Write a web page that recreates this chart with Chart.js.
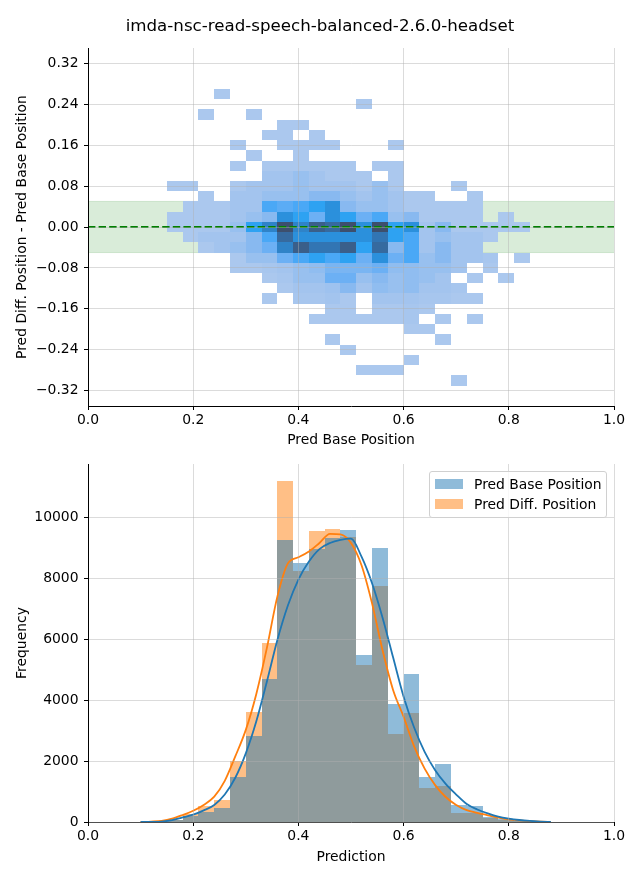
<!DOCTYPE html>
<html><head><meta charset="utf-8">
<script src="https://cdn.jsdelivr.net/npm/chart.js@4.4.1/dist/chart.umd.min.js"></script>
<style>
html,body{margin:0;padding:0;background:#fff;}
#wrap{position:relative;width:640px;height:880px;font-family:"DejaVu Sans",sans-serif;color:#000;}
#title{position:absolute;left:0;top:16px;width:640px;text-align:center;font-size:16.67px;line-height:20px;}
#c1{position:absolute;left:0;top:0;}
#c2{position:absolute;left:0;top:450px;}
#legend{position:absolute;left:429px;top:471px;width:178px;height:47px;border:1px solid #d0d0d0;border-radius:3px;background:rgba(255,255,255,0.8);box-sizing:border-box;font-size:13.9px;}
.item{position:absolute;left:5px;height:16px;line-height:16px;white-space:nowrap;}
.sw{display:inline-block;width:28px;height:10px;vertical-align:middle;margin-right:11px;position:relative;top:-1px;}
</style></head>
<body>
<div id="wrap">
  <canvas id="c1" width="640" height="450"></canvas>
  <canvas id="c2" width="640" height="430"></canvas>
  <div id="title">imda-nsc-read-speech-balanced-2.6.0-headset</div>
  <div id="legend">
    <div class="item" style="top:4px"><span class="sw" style="background:rgba(31,119,180,0.5)"></span>Pred Base Position</div>
    <div class="item" style="top:24px"><span class="sw" style="background:rgba(255,127,14,0.5)"></span>Pred Diff. Position</div>
  </div>
</div>
<script>
// ---------- DATA ----------
const heatXCenters = [0.165,0.195,0.225,0.255,0.285,0.315,0.345,0.375,0.405,0.435,0.465,0.495,0.525,0.555,0.585,0.615,0.645,0.675,0.705,0.735,0.765,0.795,0.825];
const heatYCenters = [0.26,0.24,0.22,0.20,0.18,0.16,0.14,0.12,0.10,0.08,0.06,0.04,0.02,0.00,-0.02,-0.04,-0.06,-0.08,-0.10,-0.12,-0.14,-0.16,-0.18,-0.20,-0.22,-0.24,-0.26,-0.28,-0.30];
const heatBinHeight = 0.02;
// relative density level per cell (rows follow heatYCenters, columns follow heatXCenters)
const heatCounts = [
 [0,0,0,1,0,0,0,0,0,0,0,0,0,0,0,0,0,0,0,0,0,0,0],
 [0,0,0,0,0,0,0,0,0,0,0,0,1,0,0,0,0,0,0,0,0,0,0],
 [0,0,1,0,0,1,0,0,0,0,0,0,0,0,0,0,0,0,0,0,0,0,0],
 [0,0,0,0,0,0,0,1,1,0,0,0,0,0,0,0,0,0,0,0,0,0,0],
 [0,0,0,0,0,0,1,1,0,1,0,0,0,0,0,0,0,0,0,0,0,0,0],
 [0,0,0,0,1,0,0,1,1,1,1,0,0,0,1,0,0,0,0,0,0,0,0],
 [0,0,0,0,0,1,0,0,1,0,0,0,0,0,0,0,0,0,0,0,0,0,0],
 [0,0,0,0,1,0,1,1,1,1,1,1,0,1,1,0,0,0,0,0,0,0,0],
 [0,0,0,0,0,0,2,2,3,2,1,1,1,0,1,0,0,0,0,0,0,0,0],
 [1,1,0,0,1,2,2,2,3,2,2,2,1,3,1,0,0,0,1,0,0,0,0],
 [0,0,1,0,2,2,3,3,3,4,4,3,2,3,2,1,1,0,0,1,0,0,0],
 [0,1,1,1,2,2,6,5.5,6,7,8,4,3,3,2,1,1,1,1,1,0,0,0],
 [1,1,1,1,2,3,4,8,7,5,8,7,5,6,3,4,1,1,1,1,0,1,0],
 [1,1,1,1,3,7,8.5,11,8.5,10,9.5,11,8,11,7,8,2,4,1,1,1,1,1],
 [0,1,2,2,2,4,6,9.5,8,8,8,8,8,9,7,6,2,3,2,2,1,0,0],
 [0,0,1,2,3,4,5,8.5,10,9,9,10,7,9.5,4,6,2,4,2,2,0,0,0],
 [0,0,0,0,1,3,3,5,6,7,6,7,5,8,5,6,3,4,2,2,1.5,0,1],
 [0,0,0,0,1,1,1.5,2,3,3.5,4.5,4.5,4.5,5,3.5,3.5,3,3,2,0,1,0,0],
 [0,0,0,0,0,0,1,1.5,3,3,5,5,3,4,3,3.5,3,2,0,1,0,1,0],
 [0,0,0,0,0,0,0,1,2,2,2.5,4,2,3.5,3,3.5,2,2,1.5,0,0,0,0],
 [0,0,0,0,0,0,1,0,1.5,1.5,2,1,0,2,2,2,1.5,1.5,1,1,0,0,0],
 [0,0,0,0,0,0,0,0,0,0,1,1,0,1,1,1.5,1,0,0,0,0,0,0],
 [0,0,0,0,0,0,0,0,0,1,1,1,1,1,1,1.5,0,1,0,1,0,0,0],
 [0,0,0,0,0,0,0,0,0,0,0,0,0,0,0,1,1,0,0,0,0,0,0],
 [0,0,0,0,0,0,0,0,0,0,1,0,0,0,0,0,0,1,0,0,0,0,0],
 [0,0,0,0,0,0,0,0,0,0,0,1,0,0,0,0,0,0,0,0,0,0,0],
 [0,0,0,0,0,0,0,0,0,0,0,0,0,0,0,1,0,0,0,0,0,0,0],
 [0,0,0,0,0,0,0,0,0,0,0,0,1,1,1,0,0,0,0,0,0,0,0],
 [0,0,0,0,0,0,0,0,0,0,0,0,0,0,0,0,0,0,1,0,0,0,0]
];
const bandLimits = [-0.05, 0.05];
const refLineY = 0;

const histCenters = [0.105,0.135,0.165,0.195,0.225,0.255,0.285,0.315,0.345,0.375,0.405,0.435,0.465,0.495,0.525,0.555,0.585,0.615,0.645,0.675,0.705,0.735,0.765,0.795,0.825,0.855];
const baseCounts = [5,20,60,190,340,460,1490,2830,4700,9250,8490,8940,9320,9570,5475,8980,3860,4850,1490,1900,570,540,150,110,40,15];
const diffCounts = [5,25,70,270,535,720,2000,3610,5870,11180,8230,9540,9600,9330,5150,7740,2900,3585,1130,1180,300,290,120,80,30,10];

const kdeX = [0.10,0.12,0.14,0.16,0.18,0.20,0.22,0.24,0.26,0.28,0.30,0.32,0.34,0.36,0.38,0.40,0.42,0.44,0.46,0.48,0.50,0.52,0.54,0.56,0.58,0.60,0.62,0.64,0.66,0.68,0.70,0.72,0.74,0.76,0.78,0.80,0.82,0.84,0.86,0.88];
const baseKde = [0,5,15,60,150,240,380,560,900,1450,2250,3300,4600,5970,7100,7950,8540,8950,9150,9250,9290,8700,7830,6700,5400,4110,3100,2300,1700,1250,900,590,410,280,175,110,65,35,15,0];
const diffKde = [0,15,40,110,230,370,560,830,1350,2150,3020,4200,5700,7390,8480,8680,8870,9150,9450,9430,9150,8420,7170,5630,4330,3450,2480,1750,1210,820,560,390,300,220,140,85,50,25,10,0];

const xTicks = [0, 0.2, 0.4, 0.6, 0.8, 1.0];
const topYTicks = [-0.32, -0.24, -0.16, -0.08, 0, 0.08, 0.16, 0.24, 0.32];
const botYTicks = [0, 2000, 4000, 6000, 8000, 10000];
const topYRange = [-0.35, 0.35], botYRange = [0, 11740];

// ---------- STYLE ----------
const heatStops = ['#abc8ee','#a3c4ee','#98c0ef','#88b9f0','#6cb0f4','#4aa8f6','#2ea2f2','#2b90dc','#3275b3','#3a5f8a','#3d4f6d'];
function hex2rgb(h){return [parseInt(h.substr(1,2),16),parseInt(h.substr(3,2),16),parseInt(h.substr(5,2),16)];}
function cmap(v){
  const t = Math.max(1, Math.min(heatStops.length, v)) - 1;
  const i = Math.min(Math.floor(t), heatStops.length - 2);
  const f = t - i;
  const a = hex2rgb(heatStops[i]), b = hex2rgb(heatStops[i+1]);
  const c = a.map((x,k)=>Math.round(x + (b[k]-x)*f));
  return 'rgb(' + c.join(',') + ')';
}

Chart.defaults.font.family = 'DejaVu Sans';
Chart.defaults.font.size = 13.9;
Chart.defaults.color = '#000';

// snap bar edges to whole pixels (avoids antialiasing seams between adjacent bins)
const snapBars = {
  id:'snapBars',
  beforeDatasetDraw(chart, args) {
    const meta = args.meta;
    if (meta.type !== 'bar') return;
    meta.data.forEach(el => {
      const l = Math.round(el.x - el.width/2), r = Math.round(el.x + el.width/2);
      el.x = (l + r) / 2; el.width = r - l;
      el.y = Math.round(el.y); el.base = Math.round(el.base);
    });
  }
};

const gridColor = 'rgba(176,176,176,0.45)';
const fnt = {family:'DejaVu Sans', size:13.9};
function axisCommon(tickValues){
  return {
    z:1,
    grid:{color:gridColor, lineWidth:1, z:1, drawTicks:true, tickLength:4, tickColor:'#000', tickWidth:1, offset:false},
    border:{display:true, color:'#000', width:1, z:1},
    afterBuildTicks: s => { s.ticks = tickValues.map(v => ({value:v})); }
  };
}
const minus = s => s.replace('-', '\u2212');

// ---------- TOP: 2D histogram ----------
const heatData = [], heatColors = [];
heatYCenters.forEach((yc, r) => {
  heatCounts[r].forEach((v, c) => {
    if (v > 0) {
      heatData.push({x: heatXCenters[c], y: [yc - heatBinHeight/2, yc + heatBinHeight/2]});
      heatColors.push(cmap(v));
    }
  });
});

new Chart(document.getElementById('c1'), {
  type: 'bar',
  plugins:[snapBars],
  data: { datasets: [
    { type:'line', data:[{x:0,y:refLineY},{x:1,y:refLineY}], borderColor:'#008000', borderWidth:2, borderDash:[7.4,3.2], pointRadius:0, fill:false, order:0 },
    { type:'bar', data:heatData, backgroundColor:heatColors, borderWidth:0, inflateAmount:0, barPercentage:1, categoryPercentage:1, grouped:false, order:1 },
    { type:'line', data:[{x:0,y:bandLimits[1]},{x:1,y:bandLimits[1]}], fill:'+1', backgroundColor:'rgba(0,128,0,0.15)', borderColor:'rgba(0,128,0,0.15)', borderWidth:1, pointRadius:0, order:2 },
    { type:'line', data:[{x:0,y:bandLimits[0]},{x:1,y:bandLimits[0]}], fill:false, borderColor:'rgba(0,128,0,0.15)', borderWidth:1, pointRadius:0, order:3 }
  ]},
  options: {
    responsive:false, animation:false,
    layout:{padding:{top:48, right:26, left:0, bottom:0}},
    plugins:{legend:{display:false}, tooltip:{enabled:false}, title:{display:false}},
    scales:{
      x:Object.assign(axisCommon(xTicks), {
        type:'linear', min:0, max:1, offset:false,
        ticks:{color:'#000', font:fnt, padding:2, maxRotation:0, autoSkip:false, callback:v=>v.toFixed(1)},
        title:{display:true, text:'Pred Base Position', color:'#000', font:fnt, padding:{top:0,bottom:1}},
        afterFit: s => { s.height = 44; }
      }),
      y:Object.assign(axisCommon(topYTicks), {
        type:'linear', min:topYRange[0], max:topYRange[1],
        ticks:{color:'#000', font:fnt, padding:5.5, autoSkip:false, callback:v=>minus(v.toFixed(2))},
        title:{display:true, text:'Pred Diff. Position - Pred Base Position', color:'#000', font:fnt, padding:{top:14,bottom:0}},
        afterFit: s => { s.width = 88; }
      })
    }
  }
});

// ---------- BOTTOM: histograms + KDE ----------
new Chart(document.getElementById('c2'), {
  type: 'bar',
  plugins:[snapBars],
  data: { datasets: [
    { type:'bar', label:'Pred Base Position', data:histCenters.map((x,i)=>({x, y:baseCounts[i]})), backgroundColor:'rgba(31,119,180,0.5)', borderWidth:0, inflateAmount:0, barPercentage:1, categoryPercentage:1, grouped:false, order:1 },
    { type:'bar', label:'Pred Diff. Position', data:histCenters.map((x,i)=>({x, y:diffCounts[i]})), backgroundColor:'rgba(255,127,14,0.5)', borderWidth:0, inflateAmount:0, barPercentage:1, categoryPercentage:1, grouped:false, order:1 },
    { type:'line', data:kdeX.map((x,i)=>({x, y:baseKde[i]})), borderColor:'#1f77b4', borderWidth:1.8, pointRadius:0, fill:false, cubicInterpolationMode:'monotone', order:0 },
    { type:'line', data:kdeX.map((x,i)=>({x, y:diffKde[i]})), borderColor:'#ff7f0e', borderWidth:1.8, pointRadius:0, fill:false, cubicInterpolationMode:'monotone', order:0 }
  ]},
  options: {
    responsive:false, animation:false,
    layout:{padding:{top:14, right:26, left:0, bottom:0}},
    plugins:{legend:{display:false}, tooltip:{enabled:false}},
    scales:{
      x:Object.assign(axisCommon(xTicks), {
        type:'linear', min:0, max:1, offset:false,
        ticks:{color:'#000', font:fnt, padding:2, maxRotation:0, autoSkip:false, callback:v=>v.toFixed(1)},
        title:{display:true, text:'Prediction', color:'#000', font:fnt, padding:{top:0,bottom:14.5}},
        afterFit: s => { s.height = 58; }
      }),
      y:Object.assign(axisCommon(botYTicks), {
        type:'linear', min:botYRange[0], max:botYRange[1],
        ticks:{color:'#000', font:fnt, padding:5.5, autoSkip:false, callback:v=>String(Math.round(v))},
        title:{display:true, text:'Frequency', color:'#000', font:fnt, padding:{top:14,bottom:0}},
        afterFit: s => { s.width = 88; }
      })
    }
  }
});
</script>
</body></html>
